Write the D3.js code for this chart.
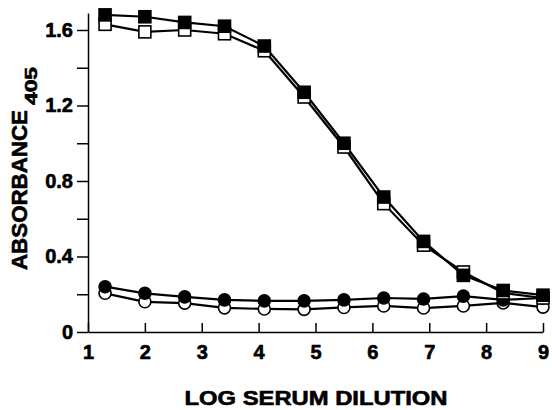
<!DOCTYPE html>
<html>
<head>
<meta charset="utf-8">
<script src="https://cdn.jsdelivr.net/npm/d3@7"></script>
<style>
  html, body { margin: 0; padding: 0; background: #fff; }
  svg text { font-family: "Liberation Sans", Arial, Helvetica, sans-serif; font-weight: bold; fill: #000; stroke: #000; stroke-width: 0.6px; }
</style>
</head>
<body>
<div id="chart"></div>
<script>
// log serum dilution (x) and absorbance at 405 nm for the four sera
const dilution = [1.3, 2.0, 2.7, 3.4, 4.1, 4.8, 5.5, 6.2, 6.9, 7.6, 8.3, 9.0];
const filledSquares = [1.68, 1.67, 1.64, 1.62, 1.515, 1.27, 1.00, 0.715, 0.48, 0.30, 0.22, 0.195];
const openSquares = [1.63, 1.59, 1.60, 1.58, 1.49, 1.245, 0.98, 0.68, 0.46, 0.318, 0.207, 0.18];
const filledCircles = [0.24, 0.205, 0.186, 0.17, 0.165, 0.165, 0.17, 0.18, 0.175, 0.19, 0.17, 0.18];
const openCircles = [0.205, 0.16, 0.153, 0.128, 0.122, 0.12, 0.13, 0.138, 0.127, 0.138, 0.154, 0.132];

const xTicks = [1, 2, 3, 4, 5, 6, 7, 8, 9];
const yTicks = [0, 0.2, 0.4, 0.6, 0.8, 1.0, 1.2, 1.4, 1.6];
const yLabels = [0, 0.4, 0.8, 1.2, 1.6];

const width = 552, height = 410;

const svg = d3.select("#chart").append("svg")
    .attr("width", width)
    .attr("height", height);

const x = d3.scaleLinear().domain([1, 9]).range([88, 543]);
const y = d3.scaleLinear().domain([0, 1.69]).range([332, 13]);

// y axis, ticks out to the left, labels only every 0.4
svg.append("g")
    .attr("transform", `translate(${x(1)},0)`)
    .call(d3.axisLeft(y)
        .tickValues(yTicks)
        .tickSize(11)
        .tickSizeOuter(0)
        .tickPadding(4)
        .tickFormat(d => yLabels.some(v => Math.abs(v - d) < 1e-9) ? (d === 0 ? "0" : d3.format(".1f")(d)) : ""))
    .call(g => g.selectAll("text").style("font-size", "20px").attr("font-family", null))
    .call(g => g.selectAll("line, path").attr("stroke", "#000").attr("stroke-width", 1.5));

// x axis, ticks point up into the plot
svg.append("g")
    .attr("transform", `translate(0,${y(0)})`)
    .call(d3.axisBottom(x)
        .tickValues(xTicks)
        .tickSize(-9)
        .tickSizeOuter(0)
        .tickPadding(13)
        .tickFormat(d3.format("d")))
    .call(g => g.selectAll("text").style("font-size", "20px").attr("font-family", null))
    .call(g => g.selectAll("line, path").attr("stroke", "#000").attr("stroke-width", 1.5));

// axis titles
svg.append("text")
    .attr("x", 316)
    .attr("y", 405)
    .attr("text-anchor", "middle")
    .attr("textLength", 263)
    .attr("lengthAdjust", "spacingAndGlyphs")
    .style("font-size", "20px")
    .text("LOG SERUM DILUTION");

svg.append("text")
    .attr("transform", "translate(27,190) rotate(-90)")
    .attr("text-anchor", "middle")
    .attr("textLength", 160)
    .attr("lengthAdjust", "spacingAndGlyphs")
    .style("font-size", "22px")
    .text("ABSORBANCE");

svg.append("text")
    .attr("transform", "translate(37,86) rotate(-90)")
    .attr("text-anchor", "middle")
    .attr("textLength", 38)
    .attr("lengthAdjust", "spacingAndGlyphs")
    .style("font-size", "16px")
    .text("405");

const line = d3.line()
    .x(d => x(d[0]))
    .y(d => y(d[1]));

const series = [
    { values: openCircles, shape: "circle", fill: "#fff" },
    { values: filledCircles, shape: "circle", fill: "#000" },
    { values: openSquares, shape: "square", fill: "#fff" },
    { values: filledSquares, shape: "square", fill: "#000" }
];

series.forEach(s => {
    const pts = dilution.map((d, i) => [d, s.values[i]]);
    svg.append("path")
        .datum(pts)
        .attr("d", line)
        .attr("fill", "none")
        .attr("stroke", "#000")
        .attr("stroke-width", 2.2);
});

series.forEach(s => {
    const pts = dilution.map((d, i) => [d, s.values[i]]);
    if (s.shape === "circle") {
        svg.append("g").selectAll("circle")
            .data(pts)
            .enter().append("circle")
            .attr("cx", d => x(d[0]))
            .attr("cy", d => y(d[1]))
            .attr("r", 6)
            .attr("fill", s.fill)
            .attr("stroke", "#000")
            .attr("stroke-width", 1.6);
    } else {
        svg.append("g").selectAll("rect")
            .data(pts)
            .enter().append("rect")
            .attr("x", d => x(d[0]) - 6)
            .attr("y", d => y(d[1]) - 6)
            .attr("width", 12)
            .attr("height", 12)
            .attr("fill", s.fill)
            .attr("stroke", "#000")
            .attr("stroke-width", 1.6);
    }
});
</script>
</body>
</html>
